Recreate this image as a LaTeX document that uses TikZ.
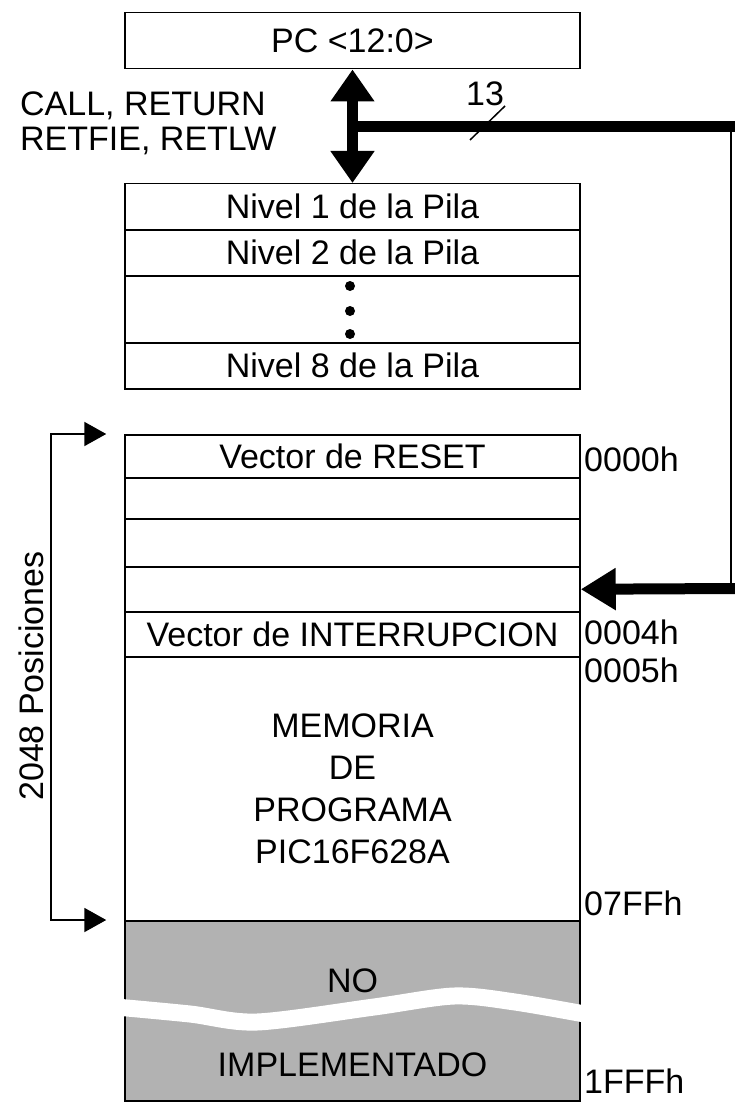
\documentclass[tikz,border=0pt]{standalone}
\usepackage{fontspec}
\setmainfont{Liberation Sans}
\usetikzlibrary{arrows.meta}

\tikzset{
    celda/.style = {draw, line width=1.5pt, minimum width=455pt, inner sep=0pt, anchor=north},
    etiqueta/.style = {inner sep=0pt},
    bus/.style = {line width=11pt},
    flechabus/.style = {line width=11pt, -{Triangle[length=35pt,width=40pt]}},
    dobleflecha/.style = {line width=11pt, {Triangle[length=32pt,width=42pt]}-{Triangle[length=32pt,width=42pt]}},
    rango/.style = {line width=2pt, {Triangle[length=22pt,width=24pt]}-{Triangle[length=22pt,width=24pt]}}
}

\begin{document}
\begin{tikzpicture}[x=1pt, y=-1pt, every node/.style={font=\fontsize{34}{42}\selectfont}]
    \useasboundingbox (0,0) rectangle (734,1102);

    % contador de programa y pila
    \node[celda, minimum height=56pt] (pc) at (352.5,12) {PC <12:0>};
    \node[celda, minimum height=46pt] (nivel1) at (352.5,183) {Nivel 1 de la Pila};
    \node[celda, minimum height=46pt] (nivel2) at (352.5,229) {Nivel 2 de la Pila};
    \node[celda, minimum height=67pt] (puntos) at (352.5,275) {};
    \node[celda, minimum height=46pt] (nivel8) at (352.5,342) {Nivel 8 de la Pila};
    \fill (350,286) circle (5pt);
    \fill (350,311) circle (5pt);
    \fill (350,334) circle (5pt);

    % memoria de programa
    \node[celda, minimum height=43pt] (reset) at (352.5,434) {Vector de RESET};
    \node[celda, minimum height=41pt] (fila1) at (352.5,477) {};
    \node[celda, minimum height=48pt] (fila2) at (352.5,518) {};
    \node[celda, minimum height=45pt] (fila3) at (352.5,566) {};
    \node[celda, minimum height=45pt] (intr) at (352.5,611) {Vector de INTERRUPCION};
    \node[celda, minimum height=264pt, align=center] (prog) at (352.5,656)
        {MEMORIA\\DE\\PROGRAMA\\PIC16F628A};
    \node[celda, minimum height=180pt, fill=gray!60] (noimp) at (352.5,920) {};
    \draw[white, line width=17pt] plot[smooth] coordinates
        {(116,1007) (190,1014) (257,1022) (374,1007) (454,996) (515,1002) (590,1015)};
    \node[etiqueta] (no) at (352.5,981) {NO};
    \node[etiqueta] (impl) at (352.5,1065) {IMPLEMENTADO};

    % direcciones
    \node[etiqueta, anchor=west] (d0000) at (584,459) {0000h};
    \node[etiqueta, anchor=west] (d0004) at (584,632) {0004h};
    \node[etiqueta, anchor=west] (d0005) at (584,670) {0005h};
    \node[etiqueta, anchor=west] (d07ff) at (584,903) {07FFh};
    \node[etiqueta, anchor=west] (d1fff) at (584,1081) {1FFFh};

    % instrucciones y bus
    \node[etiqueta, anchor=west] (call) at (20,106) {CALL, RETURN};
    \node[etiqueta, anchor=west] (retfie) at (20,141) {RETFIE, RETLW};
    \draw[dobleflecha] (pc.south) -- (nivel1.north);
    \coordinate (bus) at (352.5,127);
    \coordinate (esq) at (731,127);
    \coordinate (esq2) at (731,588.5);
    \draw[bus] (bus) -- ([xshift=4pt]esq);
    \draw[line width=1.5pt] (esq) -- (esq2);
    \draw[flechabus] ([xshift=4pt]esq2) -- (fila3.east);
    \draw[line width=1.5pt] (470,140) -- (505,106);
    \node[etiqueta] (trece) at (485,94) {13};

    % rango de posiciones
    \draw[rango] ([xshift=-18pt]reset.north west) -- ++(-55,0) |- ([xshift=-18pt]noimp.north west);
    \node[etiqueta, rotate=90] (posic) at (31,676) {2048 Posiciones};
\end{tikzpicture}
\end{document}
